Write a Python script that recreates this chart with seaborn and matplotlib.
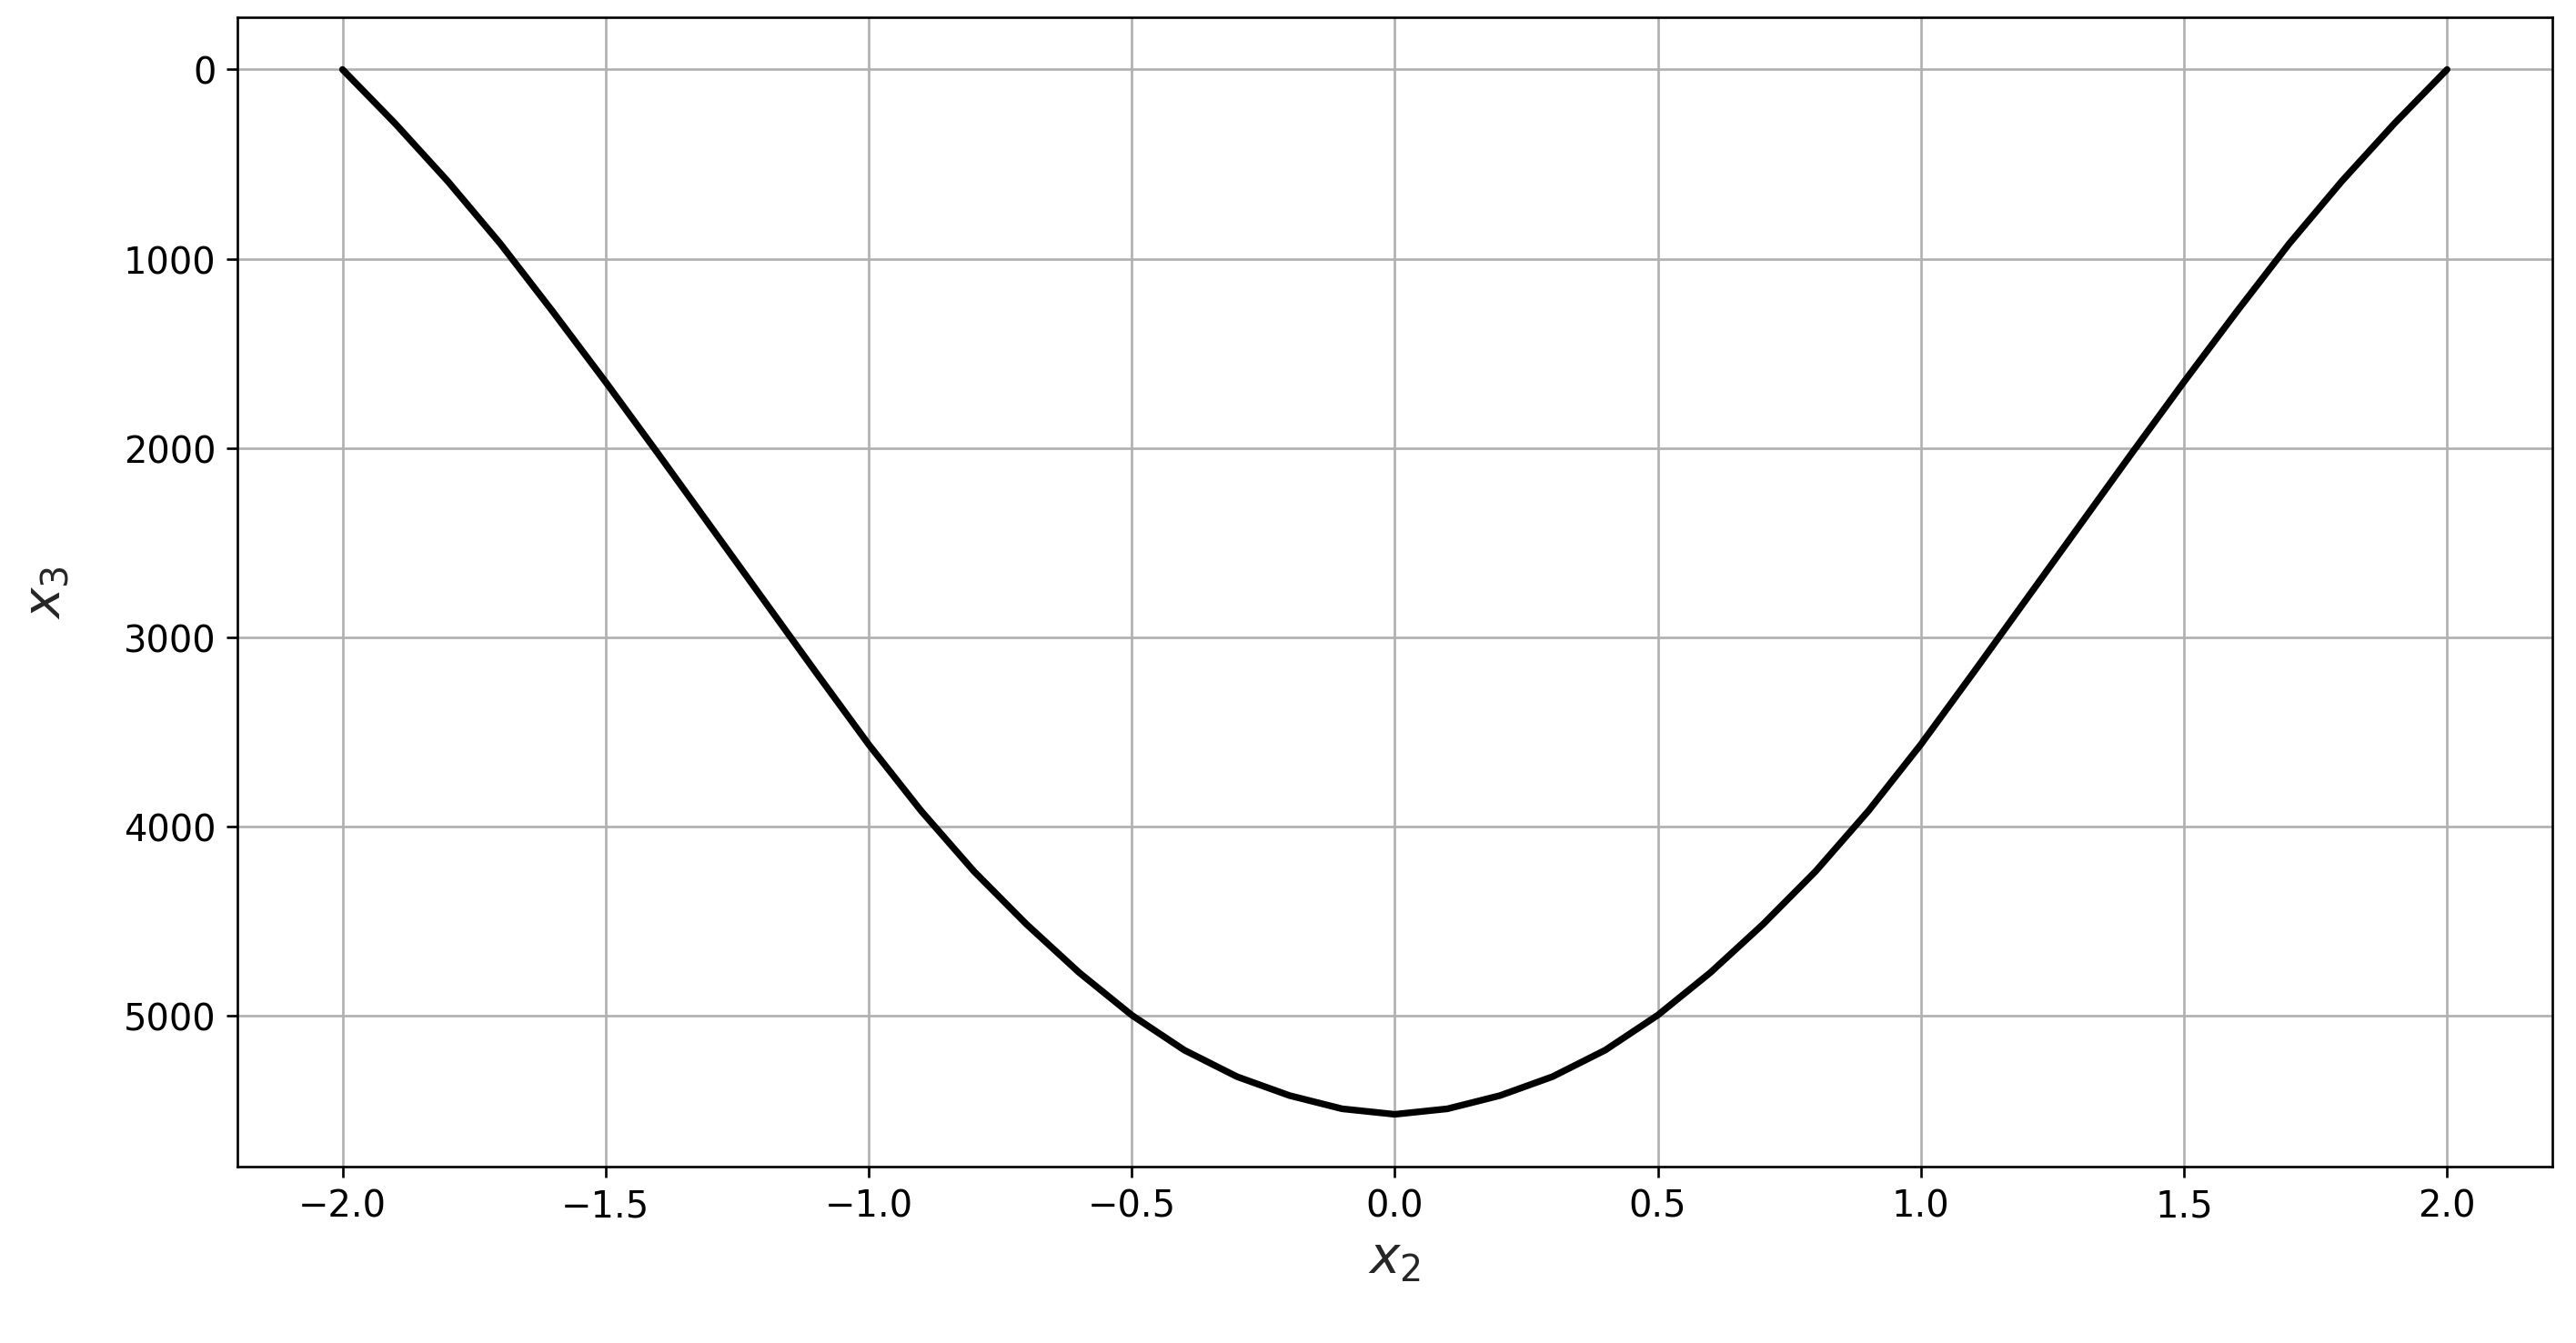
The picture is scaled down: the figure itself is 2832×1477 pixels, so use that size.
import numpy as np
import pandas as pd
import matplotlib
matplotlib.use("Agg")
import matplotlib.pyplot as plt
import seaborn as sns

# values (x2 step 0.1, x3 on an inverted axis)
x2 = [-2.0, -1.9, -1.8, -1.7, -1.6, -1.5, -1.4, -1.3, -1.2, -1.1, -1.0,
      -0.9, -0.8, -0.7, -0.6, -0.5, -0.4, -0.3, -0.2, -0.1, 0.0,
      0.1, 0.2, 0.3, 0.4, 0.5, 0.6, 0.7, 0.8, 0.9, 1.0,
      1.1, 1.2, 1.3, 1.4, 1.5, 1.6, 1.7, 1.8, 1.9, 2.0]
x3 = [0, 285, 590, 920, 1280, 1650, 2030, 2415, 2800, 3185, 3565,
      3917, 4235, 4515, 4770, 4995, 5180, 5320, 5420, 5490, 5519,
      5490, 5420, 5320, 5180, 4995, 4770, 4515, 4235, 3917, 3565,
      3185, 2800, 2415, 2030, 1650, 1280, 920, 590, 285, 0]

df = pd.DataFrame({"x2": x2, "x3": x3})

sns.set_style("white")
plt.rcParams["font.family"] = ["DejaVu Sans"]
plt.rcParams["axes.edgecolor"] = "black"
plt.rcParams["axes.linewidth"] = 0.8

fig, ax = plt.subplots(figsize=(11.8, 6.1583), dpi=240)
fig.subplots_adjust(left=0.0921, right=0.9908, top=0.9865, bottom=0.1313)

sns.lineplot(data=df, x="x2", y="x3", color="black", linewidth=2.2, ax=ax)

ax.invert_yaxis()
ax.grid(True, color="#b0b0b0", linewidth=0.8)
ax.set_axisbelow(True)

ax.tick_params(axis="both", which="major", labelsize=12, length=3.5, width=0.8,
               direction="out", colors="black", bottom=True, left=True)
ax.set_xlabel("$x_2$", fontsize=17, labelpad=3)
ax.set_ylabel("$x_3$", fontsize=17, labelpad=17)

for s in ax.spines.values():
    s.set_visible(True)
    s.set_color("black")

fig.savefig("out.png", dpi=240)
